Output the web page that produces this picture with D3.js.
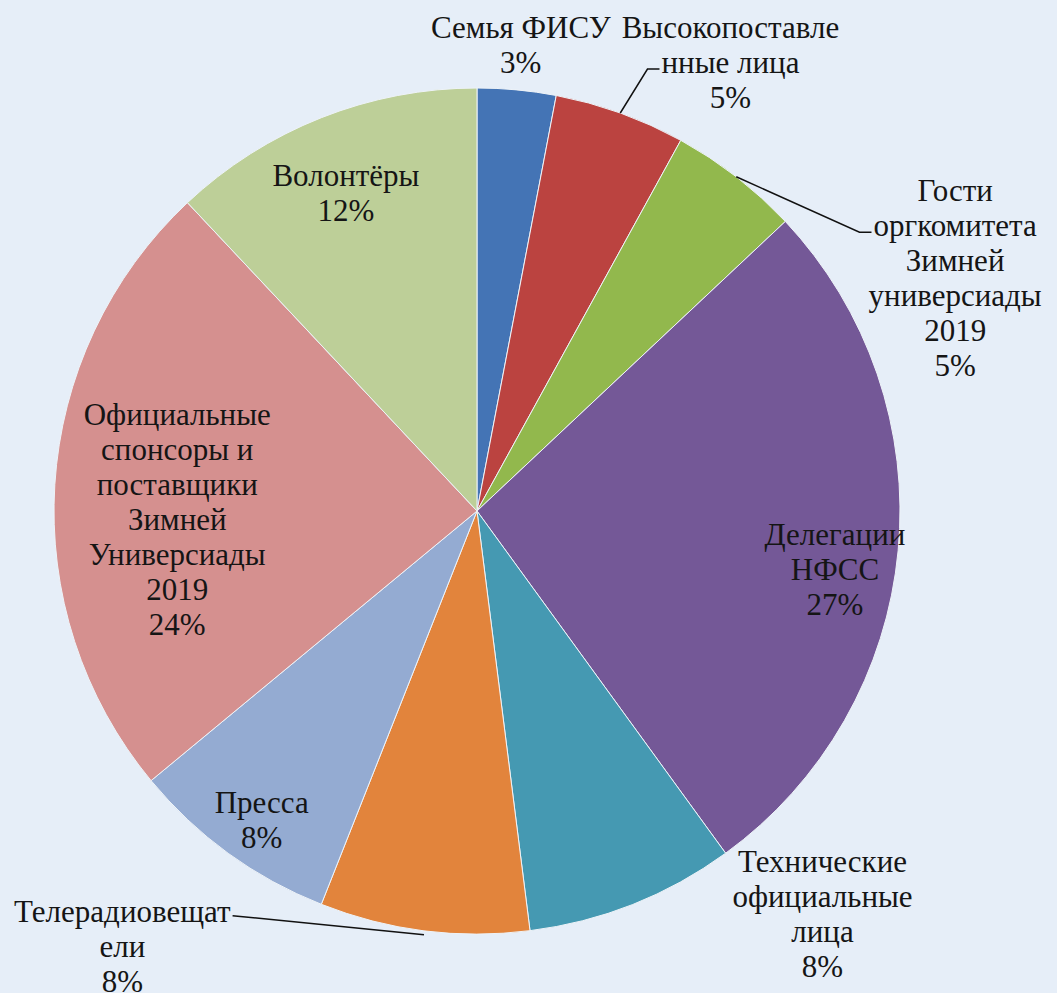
<!DOCTYPE html>
<html>
<head>
<meta charset="utf-8">
<script src="https://cdn.jsdelivr.net/npm/d3@7"></script>
<style>
  html, body { margin: 0; padding: 0; background: #e6eef8; }
  svg { display: block; }
  .lbl { font-family: "Liberation Serif", "Times New Roman", serif; font-size: 31px; fill: #151515; }
</style>
</head>
<body>
<div id="chart"></div>
<script>
// chart data, clockwise from 12 o'clock
var categories = [
  'Семья ФИСУ',
  'Высокопоставленные лица',
  'Гости оргкомитета Зимней универсиады 2019',
  'Делегации НФСС',
  'Технические официальные лица',
  'Телерадиовещатели',
  'Пресса',
  'Официальные спонсоры и поставщики Зимней Универсиады 2019',
  'Волонтёры'
];
var values = [3, 5, 5, 27, 8, 8, 8, 24, 12];
// label lines as they wrap in the picture
var labelLines = [
  ['Семья ФИСУ'],
  ['Высокопоставле', 'нные лица'],
  ['Гости', 'оргкомитета', 'Зимней', 'универсиады', '2019'],
  ['Делегации', 'НФСС'],
  ['Технические', 'официальные', 'лица'],
  ['Телерадиовещат', 'ели'],
  ['Пресса'],
  ['Официальные', 'спонсоры и', 'поставщики', 'Зимней', 'Универсиады', '2019'],
  ['Волонтёры']
];
var colors = ['#4474b5', '#bb4340', '#92b84d', '#745897', '#4599b2',
              '#e2843c', '#94abd2', '#d5908f', '#bdcf98'];

// label placement: radius as a share of the pie radius, then a nudge in px
// leader = which text line the leader line runs to (-1 for none)
var labelLayout = [
  {k: 1.10, dx: 0, dy: -3, leader: -1},
  {k: 1.05, dx: 103, dy: -31, leader: 1},
  {k: 1.15, dx: 180, dy: 151, leader: 1},
  {k: 0.85, dx: 0, dy: 24, leader: -1},
  {k: 1.05, dx: 182, dy: -10, leader: -1},
  {k: 1.05, dx: -299, dy: -5, leader: 0},
  {k: 0.89, dx: 6, dy: 4, leader: -1},
  {k: 0.71, dx: 0, dy: 27, leader: -1},
  {k: 0.81, dx: -5, dy: 0, leader: -1}
];

var width = 1057, height = 993;
var cx = 477, cy = 511, radius = 423;
var lineH = 35;

var svg = d3.select('#chart').append('svg')
  .attr('width', width)
  .attr('height', height);

var g = svg.append('g')
  .attr('transform', 'translate(' + cx + ',' + cy + ')');

var pie = d3.pie().sort(null).value(function (d) { return d; });
var arcs = pie(values);
var arc = d3.arc().innerRadius(0).outerRadius(radius);

g.selectAll('path.slice')
  .data(arcs)
  .enter().append('path')
  .attr('class', 'slice')
  .attr('d', arc)
  .attr('fill', function (d, i) { return colors[i]; })
  .attr('stroke', '#eef3f8')
  .attr('stroke-width', 1);

function midAngle(d) { return (d.startAngle + d.endAngle) / 2; }
function polar(a, r) { return [Math.sin(a) * r, -Math.cos(a) * r]; }

function textWidth(s) {
  var tmp = svg.append('text').attr('class', 'lbl').text(s);
  var w = tmp.node().getComputedTextLength();
  tmp.remove();
  return w;
}

arcs.forEach(function (d, i) {
  var lay = labelLayout[i];
  var a = midAngle(d);
  var p = polar(a, radius * lay.k);
  var x = p[0] + lay.dx;
  var y = p[1] + lay.dy;
  var lines = labelLines[i].concat([values[i] + '%']);
  var top = y - (lines.length - 1) * lineH / 2;

  if (lay.leader >= 0) {
    var edge = polar(a, radius);
    var line = labelLines[i][lay.leader];
    var ly = top + lay.leader * lineH + 7;
    var half = 0.5 * textWidth(line);
    var pts;
    if (x > 0) {
      var lx = x - half - 2;
      pts = [edge, [lx - 12, ly], [lx, ly]];
    } else {
      pts = [[edge[0], edge[1] + 4], [x + half + 2, ly - 3]];
    }
    g.append('path')
      .attr('d', d3.line()(pts))
      .attr('fill', 'none')
      .attr('stroke', '#111')
      .attr('stroke-width', 1.5);
  }

  var t = g.append('text')
    .attr('class', 'lbl')
    .attr('text-anchor', 'middle');
  lines.forEach(function (line, j) {
    t.append('tspan')
      .attr('x', x)
      .attr('y', top + j * lineH)
      .attr('dy', '0.35em')
      .text(line);
  });
});
</script>
</body>
</html>
